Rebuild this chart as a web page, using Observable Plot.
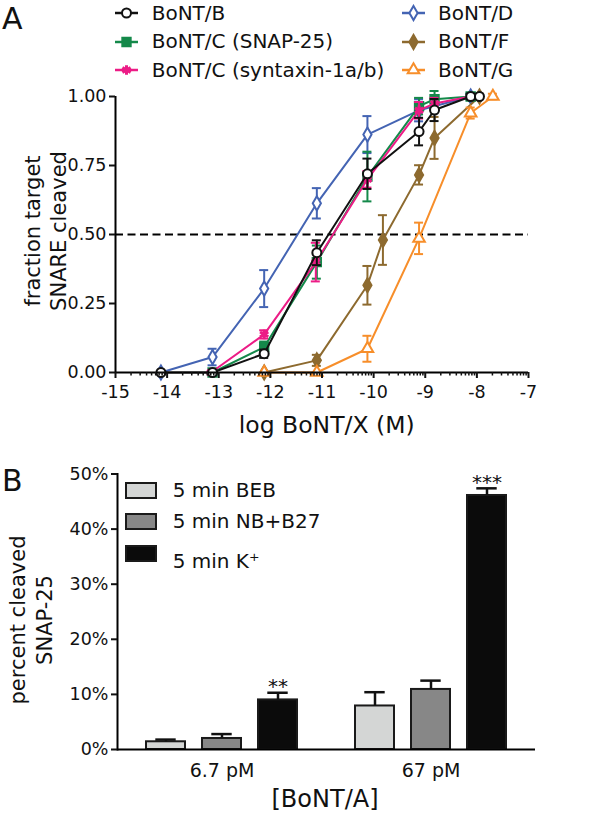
<!DOCTYPE html>
<html><head><meta charset="utf-8">
<script src="https://cdn.jsdelivr.net/npm/d3@7"></script>
<script src="https://cdn.jsdelivr.net/npm/@observablehq/plot@0.6"></script>
<style>
body{margin:0;background:#fff;}
#root{position:relative;width:600px;height:816px;overflow:hidden;font-family:"DejaVu Sans",sans-serif;color:#111;}
.abs{position:absolute;white-space:nowrap;}
svg.plotsvg{position:absolute;left:0;background:transparent;}
</style></head><body><div id="root"></div>
<script>
// ---------- Panel A data ----------
const seriesNames = ["BoNT/B","BoNT/C (SNAP-25)","BoNT/C (syntaxin-1a/b)","BoNT/D","BoNT/F","BoNT/G"];

const logB = [-14.12,-13.12,-12.12,-11.1,-10.12,-9.12,-8.82,-8.12,-7.95];
const fracB = [0,0,0.068,0.434,0.72,0.873,0.951,1.0,1.0];
const errB = [0,0,0.015,0.045,0.055,0.05,0.04,0.01,0];

const logCsnap = [-13.12,-12.12,-11.1,-10.12,-9.12,-8.82,-8.12];
const fracCsnap = [0,0.092,0.40,0.71,0.965,0.99,1.0];
const errCsnap = [0,0.02,0.06,0.09,0.03,0.03,0.01];

const logCsyn = [-13.15,-12.12,-11.12,-10.12,-9.12,-8.82,-8.12];
const fracCsyn = [0,0.138,0.40,0.70,0.95,0.975,1.0];
const errCsyn = [0,0.015,0.07,0.03,0.03,0.02,0];

const logD = [-14.12,-13.12,-12.12,-11.1,-10.12,-9.12,-8.12];
const fracD = [0,0.056,0.304,0.613,0.862,0.95,1.0];
const errD = [0,0.03,0.067,0.055,0.067,0.04,0.01];

const logF = [-12.12,-11.1,-10.12,-9.82,-9.12,-8.82,-7.95];
const fracF = [0,0.044,0.316,0.48,0.716,0.85,1.0];
const errF = [0,0.02,0.07,0.09,0.035,0.076,0.01];

const logG = [-12.12,-11.1,-10.12,-9.12,-8.12,-7.69];
const fracG = [0,0,0.086,0.486,0.94,1.0];
const errG = [0,0,0.047,0.057,0.02,0.01];

const xTickValues = [-15,-14,-13,-12,-11,-10,-9,-8,-7];
const yTickValuesA = [0,0.25,0.5,0.75,1];
const halfMax = 0.5;

// ---------- Panel B data ----------
const concLabels = ["6.7 pM","67 pM"];
const condLabels = ["5 min BEB","5 min NB+B27","5 min K\u207A"];
const pct67pM_low = [1.4,2.0,9.0];      // 6.7 pM
const err67pM_low = [0.4,0.8,1.3];
const sig67pM_low = ["","","**"];
const pct67pM = [7.9,10.9,46.1];        // 67 pM
const err67pM = [2.5,1.6,1.3];
const sig67pM = ["","","***"];
const yTickValuesB = [0,10,20,30,40,50];

// ---------- styles ----------
const styleA = {
  "BoNT/B": {color:"#111111", symbol:"circle", fill:"white", r:4.5, sw:2},
  "BoNT/C (SNAP-25)": {color:"#14894a", symbol:"square", fill:null, r:5, sw:1.5},
  "BoNT/C (syntaxin-1a/b)": {color:"#ec1c86", symbol:"asterisk", fill:null, r:4.5, sw:3},
  "BoNT/D": {color:"#4464b3", symbol:"diamond", fill:"white", r:4.3, sw:2},
  "BoNT/F": {color:"#8d6a2f", symbol:"diamond", fill:null, r:4.6, sw:1.5},
  "BoNT/G": {color:"#f78e2a", symbol:"triangle", fill:"white", r:4.3, sw:2}
};
const seriesData = {
  "BoNT/B": [logB, fracB, errB],
  "BoNT/C (SNAP-25)": [logCsnap, fracCsnap, errCsnap],
  "BoNT/C (syntaxin-1a/b)": [logCsyn, fracCsyn, errCsyn],
  "BoNT/D": [logD, fracD, errD],
  "BoNT/F": [logF, fracF, errF],
  "BoNT/G": [logG, fracG, errG]
};
const drawOrder = ["BoNT/D","BoNT/F","BoNT/G","BoNT/C (SNAP-25)","BoNT/C (syntaxin-1a/b)","BoNT/B"];

const root = document.getElementById("root");

// ---------- Panel A plot ----------
const minorTicks = [];
for (let n = -15; n < -7; n++) for (let k = 2; k < 10; k++) minorTicks.push(n + Math.log10(k));

const marksA = [
  Plot.ruleY([halfMax], {x1: -15, x2: -7, stroke: "#000", strokeWidth: 2, strokeDasharray: "8,4.5"})
];
for (const name of drawOrder) {
  const [xs, ys, es] = seriesData[name];
  const st = styleA[name];
  const rows = xs.map((x, i) => ({x, y: ys[i], e: es[i]}));
  const eb = rows.filter(d => d.e > 0);
  marksA.push(
    Plot.line(rows, {x: "x", y: "y", stroke: st.color, strokeWidth: 2}),
    Plot.ruleX(eb, {x: "x", y1: d => d.y - d.e, y2: d => d.y + d.e, stroke: st.color, strokeWidth: 2}),
    Plot.ruleY(eb, {y: d => d.y + d.e, x1: "x", x2: "x", insetLeft: -4.5, insetRight: -4.5, stroke: st.color, strokeWidth: 2}),
    Plot.ruleY(eb, {y: d => d.y - d.e, x1: "x", x2: "x", insetLeft: -4.5, insetRight: -4.5, stroke: st.color, strokeWidth: 2}),
    Plot.dot(rows, {x: "x", y: "y", symbol: st.symbol, r: st.r, stroke: st.color, fill: st.fill ?? st.color, strokeWidth: st.sw})
  );
}
marksA.push(
  Plot.ruleX([-15], {y1: 0, y2: 1, stroke: "#000", strokeWidth: 2}),
  Plot.ruleY([0], {x1: -15, x2: -7, stroke: "#000", strokeWidth: 2}),
  Plot.axisY({ticks: yTickValuesA, tickFormat: d3.format(".2f"), tickSize: 6, tickPadding: 3, strokeWidth: 2, label: null, fontSize: 17.5}),
  Plot.axisX({ticks: xTickValues, tickFormat: d => String(d), tickSize: 6, tickPadding: 7, strokeWidth: 2, label: null, fontSize: 17.5}),
  Plot.axisX({ticks: minorTicks, tickFormat: () => "", tickSize: 3.5, strokeWidth: 1.5, label: null})
);

const plotA = Plot.plot({
  width: 600, height: 380,
  marginLeft: 115, marginRight: 72, marginTop: 16, marginBottom: 88,
  x: {domain: [-15, -7]},
  y: {domain: [0, 1]},
  style: {fontFamily: "DejaVu Sans", fontSize: "17.5px", color: "#111", background: "transparent"},
  marks: marksA
});
plotA.classList.add("plotsvg");
plotA.style.top = "80px";
root.appendChild(plotA);

// ---------- Panel B plot ----------
const valsB = [pct67pM_low, pct67pM];
const errsB = [err67pM_low, err67pM];
const sigsB = [sig67pM_low, sig67pM];
const rowsB = concLabels.flatMap((c, gi) => condLabels.map((k, ci) => ({
  conc: c, cond: k, v: valsB[gi][ci], e: errsB[gi][ci], sig: sigsB[gi][ci]
})));

const plotB = Plot.plot({
  width: 600, height: 356,
  marginLeft: 116, marginRight: 65, marginTop: 13.5, marginBottom: 67,
  fx: {domain: concLabels, padding: 0, label: null},
  x: {domain: condLabels, paddingInner: 0.3, paddingOuter: 0.5, axis: null},
  y: {domain: [0, 50], label: null},
  color: {domain: condLabels, range: ["#d4d6d5", "#878787", "#0b0b0b"]},
  style: {fontFamily: "DejaVu Sans", fontSize: "17.5px", color: "#111", background: "transparent"},
  marks: [
    Plot.barY(rowsB, {fx: "conc", x: "cond", y: "v", fill: "cond", stroke: "#1a1a1a", strokeWidth: 2}),
    Plot.ruleX(rowsB, {fx: "conc", x: "cond", y1: "v", y2: d => d.v + d.e, stroke: "#111", strokeWidth: 2.5}),
    Plot.tickY(rowsB, {fx: "conc", x: "cond", y: d => d.v + d.e, insetLeft: 9.3, insetRight: 9.3, stroke: "#111", strokeWidth: 2.5}),
    Plot.text(rowsB, {fx: "conc", x: "cond", y: d => d.v + d.e, text: "sig", dy: -6, fontSize: 20, fill: "#111"}),
    Plot.ruleY([0], {stroke: "#000", strokeWidth: 2}),
    Plot.frame({anchor: "left", facetAnchor: "left", stroke: "#000", strokeWidth: 2}),
    Plot.axisY({ticks: yTickValuesB, tickFormat: d => d + "%", tickSize: 6, tickPadding: 3, strokeWidth: 2, label: null, fontSize: 17.5}),
    Plot.axisFx({anchor: "bottom", tickSize: 0, tickPadding: 14, label: null, fontSize: 19})
  ]
});
plotB.classList.add("plotsvg");
plotB.style.top = "460px";
root.appendChild(plotB);

// ---------- HTML texts & legends ----------
function addText(html, left, cy, size, center) {
  const d = document.createElement("div");
  d.className = "abs";
  const L = Math.round(size * 1.25);
  d.style.left = left + "px";
  d.style.top = (cy - L / 2) + "px";
  d.style.lineHeight = L + "px";
  d.style.fontSize = size + "px";
  if (center) d.style.transform = "translateX(-50%)";
  d.textContent = html;
  root.appendChild(d);
  return d;
}
function addVertical(lines, cx, cy, size, lh) {
  const d = document.createElement("div");
  d.className = "abs";
  d.style.left = cx + "px";
  d.style.top = cy + "px";
  d.style.fontSize = size + "px";
  d.style.lineHeight = lh + "px";
  d.style.textAlign = "center";
  d.style.transform = "translate(-50%,-50%) rotate(-90deg)";
  d.innerHTML = lines.map(s => `<div>${s}</div>`).join("");
  root.appendChild(d);
}

addText("A", 2, 19, 30);
addText("B", 2, 481, 30);

// legend A
const legendCols = [[115, 151.7], [402, 438]];
const legendRows = [13.3, 41.7, 70];
const legendOrder = [["BoNT/B","BoNT/C (SNAP-25)","BoNT/C (syntaxin-1a/b)"], ["BoNT/D","BoNT/F","BoNT/G"]];
const symMap = {circle: d3.symbolCircle, square: d3.symbolSquare, asterisk: d3.symbolAsterisk, diamond: d3.symbolDiamond, triangle: d3.symbolTriangle};
legendOrder.forEach((col, ci) => col.forEach((name, ri) => {
  const st = styleA[name];
  const cy = legendRows[ri];
  const [lx, tx] = legendCols[ci];
  const svg = d3.create("svg").attr("width", 26).attr("height", 18)
    .style("position", "absolute").style("left", lx + "px").style("top", (cy - 9) + "px");
  svg.append("line").attr("x1", 0).attr("x2", 23).attr("y1", 9).attr("y2", 9).attr("stroke", st.color).attr("stroke-width", 2.5);
  svg.append("path").attr("transform", "translate(11.5,9)")
    .attr("d", d3.symbol(symMap[st.symbol], Math.PI * st.r * st.r)())
    .attr("fill", st.fill ?? st.color).attr("stroke", st.color).attr("stroke-width", st.sw);
  root.appendChild(svg.node());
  addText(name, tx, cy, 20);
}));

// legend B
const legendBRows = [490, 521.5, 553.5];
const legendBText = [490, 521.7, 561];
const legendBFill = ["#d4d6d5", "#878787", "#0b0b0b"];
condLabels.forEach((lab, i) => {
  const b = document.createElement("div");
  b.className = "abs";
  b.style.left = "125px";
  b.style.top = (legendBRows[i] - 8.5) + "px";
  b.style.width = "28px"; b.style.height = "13px";
  b.style.border = "2px solid #1a1a1a";
  b.style.background = legendBFill[i];
  root.appendChild(b);
  addText(lab, 172.7, legendBText[i], 20);
});

// axis titles
addText("log BoNT/X (M)", 326.7, 425, 23.5, true);
addText("[BoNT/A]", 325, 799, 24, true);
addVertical(["fraction target", "SNARE cleaved"], 46, 231, 21, 26);
addVertical(["percent cleaved", "SNAP-25"], 32, 620, 21, 27);
</script>
</body></html>
